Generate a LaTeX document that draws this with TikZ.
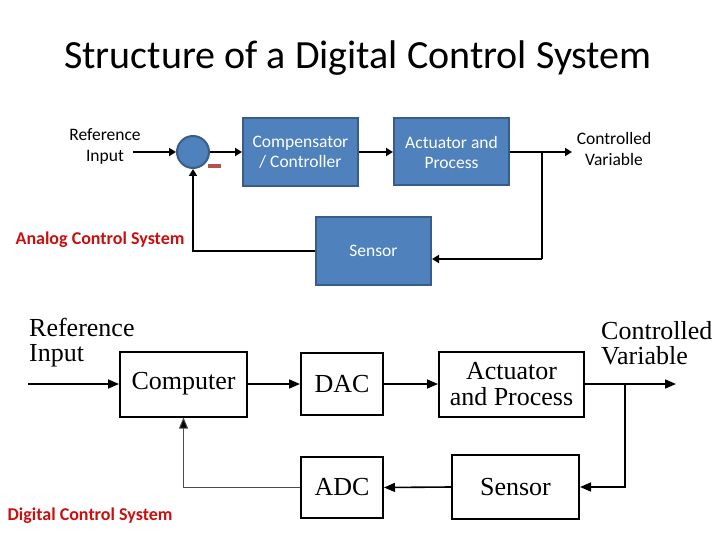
\documentclass[tikz,border=0pt]{standalone}
\usepackage{fontspec}
\setmainfont{Carlito}
\newfontfamily\tnr{Liberation Serif}
\usetikzlibrary{arrows.meta,positioning}
\definecolor{boxblue}{RGB}{79,129,189}
\definecolor{boxedge}{RGB}{56,93,138}
\definecolor{minusred}{RGB}{180,80,80}
\definecolor{labelred}{RGB}{200,16,16}
\begin{document}
\begin{tikzpicture}[x=1pt,y=-1pt,
  bluebox/.style={draw=boxedge,fill=boxblue,line width=2pt,text=white,align=center,
    font=\fontsize{17.5}{20}\selectfont,inner sep=0pt},
  plainbox/.style={draw=black,line width=2pt,align=center,
    font=\tnr\fontsize{26}{26}\selectfont,inner sep=0pt},
  tarr/.style={line width=2.8pt,-{Triangle[length=7pt,width=8pt]}},
  tline/.style={line width=2.8pt},
  barr/.style={line width=1.6pt,-{Triangle[length=11pt,width=9pt]}},
  bline/.style={line width=1.6pt},
  garr/.style={line width=1pt,draw=black!70,-{Triangle[length=11pt,width=9pt,fill=black]}},
  toplabel/.style={align=center,font=\fontsize{17.5}{21}\selectfont},
  botlabel/.style={align=left,anchor=west,inner sep=0pt,font=\tnr\fontsize{26}{25}\selectfont},
  redlabel/.style={text=labelred,font=\bfseries\fontsize{18}{20}\selectfont}
]
\useasboundingbox (0,0) rectangle (720,540);

% title
\node[font=\fontsize{40}{44}\selectfont] (title) at (358,58) {Structure of a Digital Control System};

% ---------- analog system ----------
\node[toplabel] (refin) at (105,146) {Reference\\Input};
\coordinate (refend) at (133,152);
\node[circle,draw=boxedge,fill=boxblue,line width=2pt,minimum size=32pt,inner sep=0pt] (sum) at (193,152) {};
\fill[minusred] (208,164) rectangle (221,168);
\node[bluebox,minimum width=115pt,minimum height=68pt] (comp) at (300.5,152) {Compensator\\/ Controller};
\node[bluebox,minimum width=115pt,minimum height=67pt] (act) at (451.5,152) {Actuator and\\Process};
\node[bluebox,minimum width=115pt,minimum height=67pt] (sens) at (373.5,251) {Sensor};
\node[toplabel] (cv) at (614,149) {Controlled\\Variable};
\node[redlabel] (analog) at (100,240) {Analog Control System};

\coordinate (aout) at (572,152);
\coordinate (abr) at (542,152);
\coordinate (afb) at (542,259);

\draw[tarr] (refend) -- (sum.west);
\draw[tarr] (sum.east) -- (comp.west);
\draw[tarr] (comp.east) -- (act.west);
\draw[tarr] (act.east) -- (aout);
\draw[tline] (abr) -- (afb);
\draw[tarr] (afb) -- (afb -| sens.east);
\draw[tarr] (sens.west) -| (sum.south);

% ---------- digital system ----------
\node[botlabel] (brefin) at (29,343) {Reference\\Input};
\node[botlabel] (bcv) at (601,343) {Controlled\\Variable};
\coordinate (bin) at (28,384);
\node[plainbox,minimum width=127pt,minimum height=65pt] (cpu) at (183.5,384) {Computer};
\node[plainbox,minimum width=82pt,minimum height=62pt] (dac) at (342,384) {DAC};
\node[plainbox,minimum width=145pt,minimum height=65pt] (bact) at (511.5,384) {Actuator\\and Process};
\node[plainbox,minimum width=127pt,minimum height=64pt] (bsens) at (515.5,487) {Sensor};
\node[plainbox,minimum width=82pt,minimum height=61pt] (adc) at (342,487.5) {ADC};
\node[redlabel] (digital) at (90,516) {Digital Control System};

\coordinate (bout) at (676,384);
\coordinate (bbr) at (625,384);

\draw[barr] (bin) -- (cpu.west);
\draw[barr] (cpu.east) -- (dac.west);
\draw[barr] (dac.east) -- (bact.west);
\draw[barr] (bact.east) -- (bout);
\draw[barr] (bbr) |- (bsens.east);
\draw[barr] (bsens.west) -- (adc.east);
\draw[garr] (adc.west) -| (cpu.south);
\end{tikzpicture}
\end{document}
